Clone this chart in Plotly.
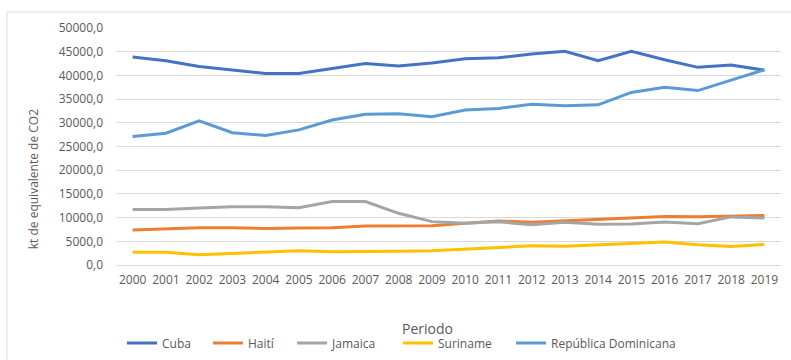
import plotly.graph_objects as go

years = [str(y) for y in range(2000, 2020)]

cuba = [43900, 43100, 41900, 41100, 40400, 40400, 41400, 42500, 42000, 42600,
        43500, 43700, 44500, 45100, 43100, 45100, 43300, 41700, 42200, 41100]
haiti = [7400, 7600, 7850, 7850, 7700, 7800, 7850, 8250, 8300, 8300,
         8800, 9300, 9000, 9300, 9700, 10000, 10250, 10200, 10350, 10450]
jamaica = [11700, 11700, 12000, 12300, 12300, 12100, 13400, 13400, 10900, 9150,
           8800, 9100, 8500, 9000, 8600, 8650, 9050, 8700, 10150, 9900]
suriname = [2700, 2700, 2150, 2450, 2850, 3000, 2800, 2800, 2900, 3000,
            3400, 3700, 4050, 3950, 4300, 4550, 4850, 4250, 3900, 4350]
rep_dom = [27100, 27800, 30400, 27900, 27300, 28500, 30600, 31800, 31900, 31300,
           32700, 33000, 33900, 33600, 33800, 36400, 37500, 36800, 39000, 41200]

series_names = ["Cuba", "Haití", "Jamaica", "Suriname", "República Dominicana"]
series_values = [cuba, haiti, jamaica, suriname, rep_dom]
series_colors = ["#4472C4", "#ED7D31", "#A5A5A5", "#FFC000", "#5B9BD5"]

y_ticks = list(range(0, 50001, 5000))
y_tick_text = [f"{v},0" for v in y_ticks]

text_color = "#595959"
font_family = "Open Sans"

# plot area spans 116..781 px horizontally; legend entries sit in a row below
plot_left, plot_width = 116, 665
legend_left_px = [122, 208, 292, 398, 511]

fig = go.Figure()
legend_layouts = {}
for i, (name, values, color) in enumerate(zip(series_names, series_values, series_colors)):
    key = "legend" if i == 0 else f"legend{i + 1}"
    fig.add_trace(go.Scatter(
        x=years, y=values, name=name, mode="lines",
        line=dict(color=color, width=3), legend=key,
    ))
    legend_layouts[key] = dict(
        orientation="h",
        x=(legend_left_px[i] - plot_left) / plot_width, xanchor="left",
        y=-0.268, yanchor="top",
        font=dict(family=font_family, size=12, color=text_color),
        bgcolor="rgba(0,0,0,0)", itemwidth=30,
    )

fig.update_layout(
    width=791, height=360,
    margin=dict(l=116, r=10, t=28, b=95, autoexpand=False),
    paper_bgcolor="white", plot_bgcolor="white",
    font=dict(family=font_family, size=12, color=text_color),
    showlegend=True,
    xaxis=dict(
        type="category", range=[-0.5, 19.5],
        showgrid=False, zeroline=False, showline=False,
        ticks="", ticklabelstandoff=6,
        tickfont=dict(family=font_family, size=12, color=text_color),
    ),
    yaxis=dict(
        range=[0, 50000], tickvals=y_ticks, ticktext=y_tick_text,
        showgrid=True, gridcolor="#D9D9D9", gridwidth=1,
        zeroline=True, zerolinecolor="#D9D9D9", zerolinewidth=1,
        showline=False, ticks="", ticklabelstandoff=12,
        tickfont=dict(family=font_family, size=12, color=text_color),
    ),
    annotations=[
        dict(text="kt de equivalente de CO2", textangle=-90,
             xref="paper", yref="paper", x=-0.124, y=0.36,
             xanchor="center", yanchor="middle", showarrow=False,
             font=dict(family=font_family, size=12, color=text_color)),
        dict(text="Periodo", xref="paper", yref="paper",
             x=0.469, y=-0.27, xanchor="center", yanchor="middle",
             showarrow=False,
             font=dict(family=font_family, size=14, color=text_color)),
    ],
    shapes=[
        dict(type="rect", xref="paper", yref="paper",
             x0=-0.164, y0=-0.5, x1=1.1, y1=1.0675,
             line=dict(color="#D9D9D9", width=1), fillcolor="rgba(0,0,0,0)",
             layer="below"),
    ],
    **legend_layouts,
)

fig.write_html("out.html")
